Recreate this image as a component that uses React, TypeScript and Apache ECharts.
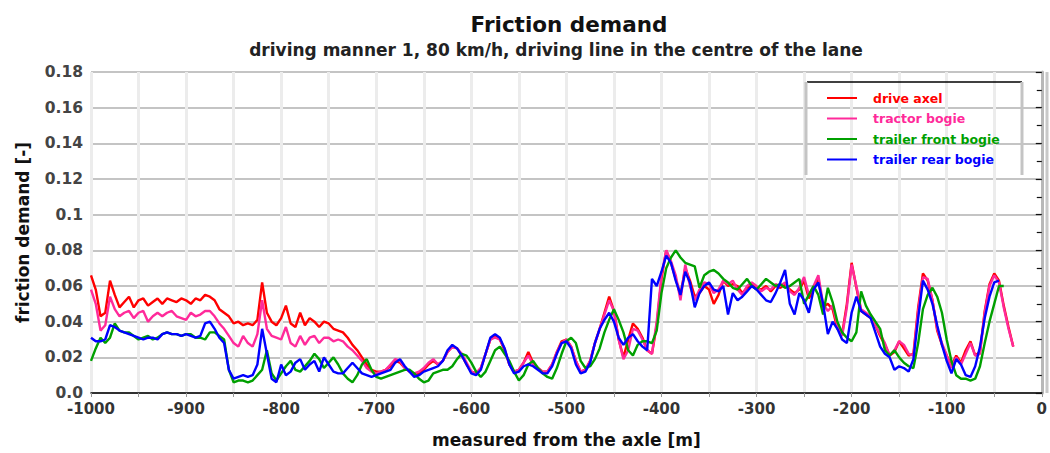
import React, { useEffect, useRef } from "react";
import * as echarts from "echarts";

const X_START = -1000;
const X_STEP = 5;

const SERIES_NAMES = ["drive axel", "tractor bogie", "trailer front bogie", "trailer rear bogie"];
const SERIES_COLORS = ["#ff0000", "#ff2a9a", "#00a000", "#0000ff"];

const driveAxel = [
  0.066, 0.058, 0.043, 0.045, 0.063, 0.055, 0.048, 0.051, 0.054, 0.048, 0.052, 0.053, 0.049, 0.051, 0.053, 0.050, 0.053, 0.052, 0.051, 0.053,
  0.052, 0.050, 0.053, 0.052, 0.055, 0.054, 0.052, 0.047, 0.045, 0.043, 0.039, 0.040, 0.038, 0.039, 0.038, 0.041, 0.062, 0.045, 0.040, 0.038,
  0.042, 0.049, 0.039, 0.037, 0.045, 0.038, 0.042, 0.040, 0.037, 0.040, 0.039, 0.036, 0.035, 0.034, 0.031, 0.027, 0.024, 0.020, 0.016, 0.013,
  0.012, 0.012, 0.013, 0.015, 0.018, 0.017, 0.014, 0.012, 0.010, 0.011, 0.013, 0.016, 0.018, 0.016, 0.018, 0.023, 0.026, 0.025, 0.021, 0.016,
  0.012, 0.011, 0.014, 0.022, 0.030, 0.032, 0.030, 0.024, 0.016, 0.012, 0.013, 0.017, 0.023, 0.017, 0.014, 0.012, 0.012, 0.016, 0.023, 0.029,
  0.030, 0.026, 0.018, 0.012, 0.013, 0.018, 0.028, 0.036, 0.045, 0.054, 0.046, 0.030, 0.020, 0.030, 0.039, 0.036, 0.031, 0.024, 0.022, 0.038,
  0.064, 0.080, 0.073, 0.064, 0.055, 0.070, 0.063, 0.054, 0.056, 0.060, 0.058, 0.050, 0.055, 0.063, 0.060, 0.061, 0.060, 0.056, 0.059, 0.061,
  0.059, 0.058, 0.060, 0.057, 0.060, 0.059, 0.061, 0.058, 0.056, 0.058, 0.063, 0.053, 0.058, 0.064, 0.048, 0.050, 0.047, 0.036, 0.033, 0.050,
  0.073, 0.059, 0.046, 0.044, 0.042, 0.038, 0.032, 0.027, 0.021, 0.023, 0.029, 0.025, 0.021, 0.022, 0.048, 0.067, 0.063, 0.052, 0.035, 0.027,
  0.021, 0.015, 0.021, 0.017, 0.024, 0.029, 0.021, 0.023, 0.046, 0.061, 0.067, 0.063, 0.049, 0.037, 0.026,
];

const tractorBogie = [
  0.058, 0.050, 0.035, 0.038, 0.054, 0.047, 0.043, 0.045, 0.046, 0.042, 0.045, 0.046, 0.040, 0.043, 0.045, 0.043, 0.045, 0.046, 0.043, 0.042,
  0.041, 0.045, 0.043, 0.044, 0.046, 0.046, 0.043, 0.039, 0.036, 0.032, 0.028, 0.026, 0.032, 0.028, 0.026, 0.033, 0.052, 0.036, 0.032, 0.031,
  0.030, 0.037, 0.028, 0.026, 0.032, 0.027, 0.031, 0.032, 0.028, 0.031, 0.031, 0.029, 0.030, 0.029, 0.026, 0.024, 0.021, 0.018, 0.014, 0.012,
  0.011, 0.012, 0.013, 0.016, 0.019, 0.018, 0.014, 0.012, 0.011, 0.012, 0.014, 0.017, 0.019, 0.016, 0.018, 0.023, 0.026, 0.025, 0.022, 0.017,
  0.012, 0.011, 0.014, 0.022, 0.030, 0.031, 0.030, 0.025, 0.016, 0.012, 0.013, 0.017, 0.021, 0.016, 0.014, 0.012, 0.012, 0.016, 0.023, 0.028,
  0.030, 0.026, 0.018, 0.012, 0.013, 0.018, 0.028, 0.036, 0.044, 0.052, 0.046, 0.030, 0.019, 0.024, 0.036, 0.035, 0.030, 0.024, 0.022, 0.040,
  0.066, 0.080, 0.074, 0.066, 0.052, 0.072, 0.060, 0.052, 0.058, 0.062, 0.061, 0.056, 0.058, 0.063, 0.061, 0.063, 0.058, 0.055, 0.060, 0.062,
  0.060, 0.057, 0.059, 0.058, 0.061, 0.060, 0.062, 0.057, 0.055, 0.059, 0.065, 0.055, 0.060, 0.066, 0.050, 0.046, 0.049, 0.038, 0.032, 0.048,
  0.072, 0.060, 0.047, 0.045, 0.043, 0.038, 0.033, 0.028, 0.021, 0.024, 0.029, 0.027, 0.022, 0.021, 0.046, 0.065, 0.064, 0.052, 0.036, 0.028,
  0.021, 0.014, 0.020, 0.016, 0.022, 0.028, 0.021, 0.022, 0.045, 0.060, 0.066, 0.062, 0.048, 0.036, 0.026,
];

const trailerFrontBogie = [
  0.018, 0.025, 0.031, 0.028, 0.031, 0.039, 0.035, 0.034, 0.034, 0.032, 0.030, 0.031, 0.032, 0.030, 0.031, 0.033, 0.034, 0.033, 0.033, 0.032,
  0.033, 0.033, 0.031, 0.031, 0.030, 0.034, 0.034, 0.032, 0.030, 0.013, 0.006, 0.007, 0.007, 0.006, 0.007, 0.010, 0.013, 0.024, 0.011, 0.007,
  0.011, 0.015, 0.018, 0.013, 0.012, 0.015, 0.018, 0.022, 0.019, 0.014, 0.017, 0.020, 0.016, 0.011, 0.008, 0.006, 0.010, 0.016, 0.019, 0.013,
  0.009, 0.008, 0.009, 0.010, 0.011, 0.012, 0.013, 0.013, 0.011, 0.008, 0.006, 0.007, 0.011, 0.012, 0.013, 0.013, 0.015, 0.019, 0.022, 0.021,
  0.017, 0.012, 0.009, 0.012, 0.018, 0.024, 0.026, 0.022, 0.018, 0.012, 0.007, 0.010, 0.016, 0.018, 0.014, 0.011, 0.009, 0.008, 0.014, 0.022,
  0.029, 0.031, 0.028, 0.018, 0.014, 0.015, 0.019, 0.025, 0.034, 0.041, 0.047, 0.041, 0.034, 0.024, 0.021, 0.027, 0.029, 0.029, 0.028, 0.035,
  0.056, 0.070, 0.076, 0.080, 0.076, 0.073, 0.072, 0.071, 0.059, 0.066, 0.068, 0.069, 0.067, 0.064, 0.062, 0.059, 0.058, 0.061, 0.064, 0.060,
  0.058, 0.061, 0.064, 0.062, 0.060, 0.061, 0.059, 0.060, 0.062, 0.064, 0.050, 0.055, 0.060, 0.055, 0.044, 0.059, 0.051, 0.040, 0.034, 0.031,
  0.029, 0.034, 0.057, 0.049, 0.044, 0.040, 0.036, 0.024, 0.021, 0.024, 0.020, 0.017, 0.015, 0.014, 0.028, 0.047, 0.055, 0.059, 0.054, 0.045,
  0.030, 0.018, 0.010, 0.008, 0.008, 0.007, 0.008, 0.015, 0.028, 0.040, 0.050, 0.060, 0.060, null, null,
];

const trailerRearBogie = [
  0.031, 0.029, 0.029, 0.030, 0.038, 0.037, 0.035, 0.034, 0.033, 0.032, 0.031, 0.030, 0.031, 0.031, 0.030, 0.033, 0.034, 0.033, 0.033, 0.032,
  0.033, 0.032, 0.031, 0.032, 0.039, 0.040, 0.036, 0.031, 0.028, 0.013, 0.008, 0.009, 0.010, 0.009, 0.010, 0.016, 0.036, 0.022, 0.008, 0.006,
  0.016, 0.010, 0.012, 0.017, 0.019, 0.013, 0.016, 0.018, 0.012, 0.020, 0.016, 0.012, 0.011, 0.011, 0.014, 0.017, 0.014, 0.011, 0.010, 0.009,
  0.010, 0.011, 0.012, 0.013, 0.017, 0.019, 0.015, 0.012, 0.009, 0.010, 0.012, 0.013, 0.014, 0.015, 0.018, 0.024, 0.027, 0.025, 0.021, 0.016,
  0.011, 0.010, 0.013, 0.022, 0.031, 0.033, 0.031, 0.025, 0.016, 0.011, 0.012, 0.015, 0.016, 0.015, 0.013, 0.011, 0.011, 0.015, 0.022, 0.028,
  0.029, 0.025, 0.016, 0.011, 0.012, 0.017, 0.028, 0.036, 0.041, 0.045, 0.040, 0.031, 0.027, 0.031, 0.033, 0.029, 0.026, 0.024, 0.064, 0.060,
  0.068, 0.077, 0.073, 0.063, 0.055, 0.068, 0.062, 0.048, 0.056, 0.060, 0.062, 0.058, 0.057, 0.060, 0.044, 0.056, 0.052, 0.054, 0.057, 0.060,
  0.058, 0.055, 0.052, 0.051, 0.056, 0.062, 0.069, 0.050, 0.044, 0.056, 0.052, 0.045, 0.058, 0.062, 0.050, 0.033, 0.040, 0.036, 0.030, 0.028,
  0.045, 0.054, 0.046, 0.044, 0.042, 0.034, 0.026, 0.022, 0.020, 0.013, 0.015, 0.014, 0.012, 0.019, 0.042, 0.063, 0.058, 0.050, 0.038, 0.027,
  0.018, 0.011, 0.019, 0.016, 0.010, 0.009, 0.015, 0.026, 0.042, 0.054, 0.062, 0.063, null, null, null,
];

const SERIES_VALUES = [driveAxel, tractorBogie, trailerFrontBogie, trailerRearBogie];

const X_TICKS = [-1000, -900, -800, -700, -600, -500, -400, -300, -200, -100, 0];
const Y_TICK_LABELS = ["0.0", "0.02", "0.04", "0.06", "0.08", "0.1", "0.12", "0.14", "0.16", "0.18"];

const FONT = "'DejaVu Sans', Verdana, sans-serif";

export default function App() {
  const ref = useRef<HTMLDivElement>(null);

  useEffect(() => {
    if (!ref.current) return;
    const chart = echarts.init(ref.current, undefined, { renderer: "svg" });

    const series = SERIES_NAMES.map((name, k) => ({
      name,
      type: "line",
      showSymbol: false,
      symbol: "none",
      connectNulls: false,
      lineStyle: { color: SERIES_COLORS[k], width: 2.4 },
      itemStyle: { color: SERIES_COLORS[k] },
      z: 3 + k,
      data: SERIES_VALUES[k].map((v, i) => [X_START + i * X_STEP, v]),
    }));

    chart.setOption({
      animation: false,
      backgroundColor: "#ffffff",
      title: [
        {
          text: "Friction demand",
          left: 564,
          top: 8,
          textAlign: "center",
          textStyle: { fontFamily: FONT, fontSize: 21.5, fontWeight: "bold", color: "#111" },
        },
        {
          text: "driving manner 1, 80 km/h, driving line in the centre of the lane",
          left: 551,
          top: 36,
          textAlign: "center",
          textStyle: { fontFamily: FONT, fontSize: 17, fontWeight: "bold", color: "#222" },
        },
      ],
      legend: {
        orient: "vertical",
        left: 822,
        top: 86,
        icon: "rect",
        itemWidth: 30,
        itemHeight: 2,
        itemGap: 6.5,
        data: SERIES_NAMES.map((n, k) => ({
          name: n,
          textStyle: { color: SERIES_COLORS[k] },
        })),
        textStyle: {
          fontFamily: FONT,
          fontSize: 12.5,
          fontWeight: "bold",
          lineHeight: 14,
          padding: [0, 0, 0, 11],
        },
      },
      graphic: [
        {
          type: "rect",
          z: 0,
          shape: { x: 807, y: 82, width: 215, height: 93 },
          style: { fill: "#ffffff", stroke: "none" },
        },
        {
          type: "line",
          z: 100,
          shape: { x1: 807, y1: 82, x2: 1022, y2: 82 },
          style: { stroke: "#000", lineWidth: 1.5 },
        },
        {
          type: "line",
          z: 100,
          shape: { x1: 806, y1: 82, x2: 806, y2: 175 },
          style: { stroke: "#c4c4c4", lineWidth: 3 },
        },
        {
          type: "line",
          z: 100,
          shape: { x1: 1022, y1: 82, x2: 1022, y2: 175 },
          style: { stroke: "#c4c4c4", lineWidth: 3 },
        },
        {
          type: "line",
          z: 100,
          shape: { x1: 1047, y1: 72, x2: 1047, y2: 393 },
          style: { stroke: "#c8c8c8", lineWidth: 3 },
        },
      ],
      grid: { left: 91, right: 5, top: 72, bottom: 60, containLabel: false },
      xAxis: {
        type: "value",
        min: X_TICKS[0],
        max: X_TICKS[X_TICKS.length - 1],
        interval: 100,
        name: "measured from the axle [m]",
        nameLocation: "middle",
        nameGap: 38,
        nameTextStyle: { fontFamily: FONT, fontSize: 17, fontWeight: "bold", color: "#111" },
        axisLine: { show: true, onZero: false, lineStyle: { color: "#000", width: 1.5 } },
        axisTick: { show: true, length: 4, lineStyle: { color: "#999" } },
        minorTick: { show: true, splitNumber: 2, length: 4, lineStyle: { color: "#999" } },
        axisLabel: {
          fontFamily: FONT,
          fontSize: 15,
          fontWeight: "bold",
          color: "#333",
          margin: 8,
          formatter: (v: number) => String(v),
        },
        splitLine: { show: true, lineStyle: { color: "#ececec", width: 3 } },
        minorSplitLine: { show: true, lineStyle: { color: "#ececec", width: 3 } },
      },
      yAxis: {
        type: "value",
        min: 0,
        max: 0.18,
        interval: 0.02,
        name: "friction demand [-]",
        nameLocation: "middle",
        nameGap: 60,
        nameTextStyle: { fontFamily: FONT, fontSize: 17, fontWeight: "bold", color: "#111" },
        axisLine: { show: true, lineStyle: { color: "#b8b8b8", width: 3 } },
        axisTick: { show: true, length: 6, lineStyle: { color: "#111", width: 1.2 } },
        minorTick: { show: true, splitNumber: 2, length: 5, lineStyle: { color: "#111", width: 1.2 } },
        axisLabel: {
          fontFamily: FONT,
          fontSize: 15.5,
          fontWeight: "bold",
          color: "#444",
          margin: 8,
          formatter: (v: number) => Y_TICK_LABELS[Math.round(v / 0.02)] ?? "",
        },
        splitLine: { show: true, lineStyle: { color: "#b0b0b0", width: 1.5 } },
      },
      series,
    });

    return () => chart.dispose();
  }, []);

  return (
    <div
      ref={ref}
      style={{ position: "fixed", left: 0, top: 0, width: 1050, height: 453 }}
    />
  );
}
